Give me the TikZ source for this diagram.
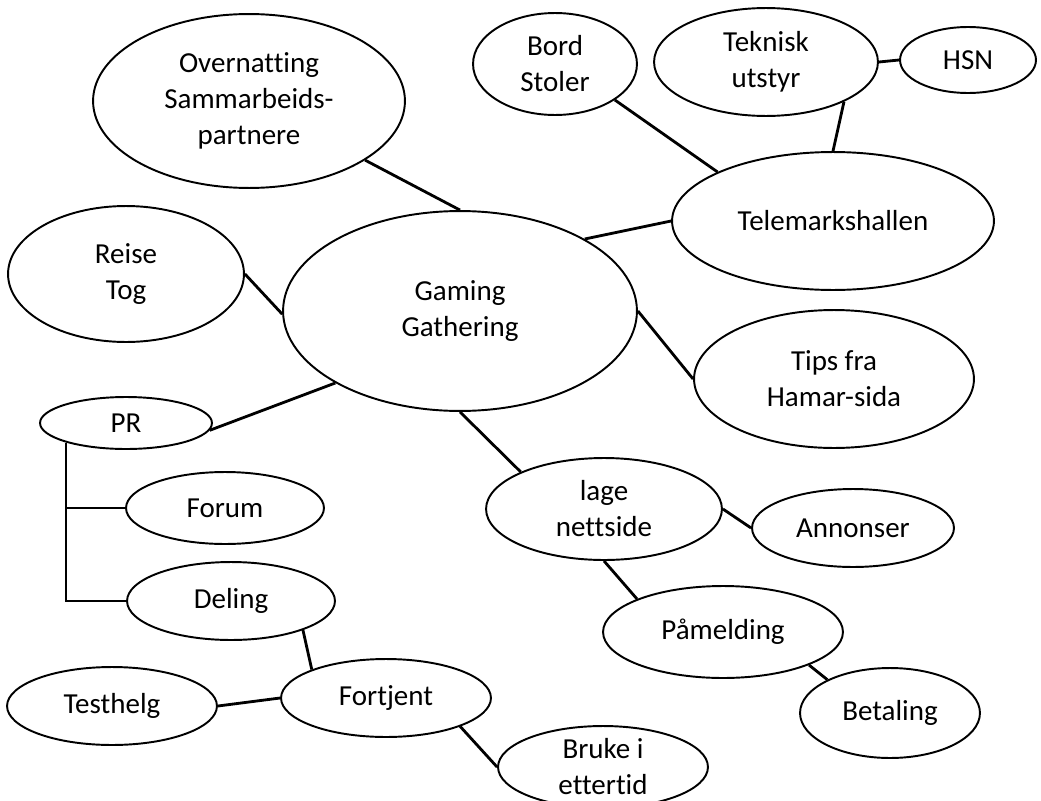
\documentclass[tikz,border=0pt]{standalone}
\usepackage{fontspec}
\setmainfont{Carlito}[Ligatures=CommonOff]
\usetikzlibrary{shapes.geometric}

\begin{document}
\begin{tikzpicture}[x=0.02cm, y=-0.02cm,
  bubble/.style={draw, ellipse, line width=1.1pt, inner sep=0pt, align=center,
    font=\fontsize{16.5}{20.5}\selectfont},
  radii/.style 2 args={minimum width=#1*0.04cm, minimum height=#2*0.04cm},
  link/.style={line width=1.6pt}]
\useasboundingbox (0,0) rectangle (1041,801);

% Centre
\node[bubble, radii={177}{100}] (gg) at (460,311) {Gaming\\Gathering};

% Upper half
\node[bubble, radii={156}{87}] (over) at (249,101) {Overnatting\\Sammarbeids-\\partnere};
\node[bubble, radii={82}{51}] (bord) at (555,64) {Bord\\Stoler};
\node[bubble, radii={112}{54}] (tek) at (766,62) {Teknisk\\utstyr};
\node[bubble, radii={68}{33}] (hsn) at (968,60) {HSN};
\node[bubble, radii={161}{69}] (tele) at (833,221) {Telemarkshallen};
\node[bubble, radii={118}{68}] (reise) at (126,274) {Reise\\Tog};
\node[bubble, radii={140}{69}] (tips) at (834,379) {Tips fra\\Hamar-sida};

% PR branch
\node[bubble, radii={86}{26}] (pr) at (126,423) {PR};
\node[bubble, radii={99}{36}] (forum) at (225,508) {Forum};
\node[bubble, radii={104}{39}] (deling) at (231,601) {Deling};
\node[bubble, radii={105}{39}] (test) at (112,706) {Testhelg};
\node[bubble, radii={105}{39}] (fort) at (386,698) {Fortjent};
\node[bubble, radii={105}{41}] (bruke) at (603,767) {Bruke i\\ettertid};

% Website branch
\node[bubble, radii={118}{51}] (lage) at (604,509) {lage\\nettside};
\node[bubble, radii={101}{39}] (ann) at (853,528) {Annonser};
\node[bubble, radii={120}{46}] (paa) at (723,632) {Påmelding};
\node[bubble, radii={90}{45}] (bet) at (890,713) {Betaling};

% Connectors
\draw[link] (gg.90) -- (over.-27);
\draw[link] (gg.30) -- (tele.180);
\draw[link] (gg.181) -- (reise.0);
\draw[link] (gg.0) -- (tips.180);
\draw[link] (gg.210) -- (pr.-5);
\draw[link] (gg.-90) -- (lage.156);
\draw[link] (bord.-31) -- (tele.157);
\draw[link] (tek.-27) -- (tele.90);
\draw[link] (tek.0) -- (hsn.180);
\draw[link] (pr.198) |- (deling.west);
\draw[link] (forum.west) -- (forum.west -| pr.198);
\draw[link] (deling.-22) -- (fort.159);
\draw[link] (test.east) -- (fort.west);
\draw[link] (fort.-21) -- (bruke.180);
\draw[link] (lage.0) -- (ann.180);
\draw[link] (lage.-90) -- (paa.159);
\draw[link] (paa.-21) -- (bet.152);
\end{tikzpicture}
\end{document}
